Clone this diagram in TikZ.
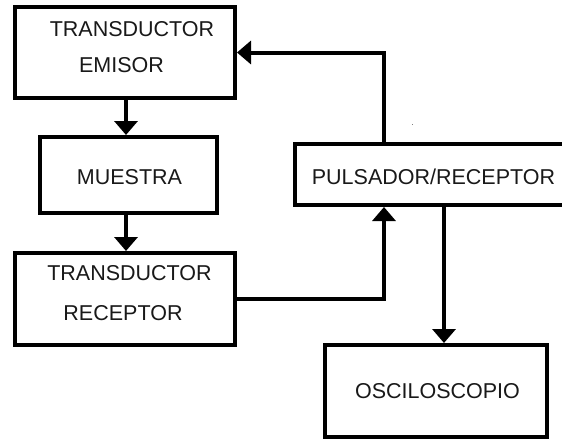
\documentclass[tikz,border=0pt]{standalone}
\usepackage{fontspec}
\setmainfont{Liberation Sans}
\usetikzlibrary{arrows.meta}
\begin{document}
\begin{tikzpicture}[x=1pt,y=-1pt,
  box/.style={draw=black,line width=4pt,inner sep=0pt,fill=white},
  lbl/.style={inner sep=0pt,font=\fontsize{21.5}{25}\selectfont,text=black!90},
  arr/.style={line width=4pt,-{Triangle[width=23pt,length=14pt]}},
  wire/.style={line width=4pt}]
\useasboundingbox (0,0) rectangle (562,440);
% boxes
\node[box,minimum width=220pt,minimum height=91pt] (emisor) at (125,52.5) {};
\node[box,minimum width=177pt,minimum height=76pt] (muestra) at (128.5,175) {};
\node[box,minimum width=220pt,minimum height=92pt] (receptor) at (125,299) {};
\node[box,minimum width=275pt,minimum height=61pt] (pulsador) at (432.5,174.5) {};
\node[box,minimum width=222pt,minimum height=92pt] (osc) at (436,391) {};
% labels
\node[lbl] (t1) at (132,29) {TRANSDUCTOR};
\node[lbl] (t2) at (121.5,65) {EMISOR};
\node[lbl] (t3) at (129.5,177) {MUESTRA};
\node[lbl] (t4) at (129.5,273.5) {TRANSDUCTOR};
\node[lbl] (t5) at (123,313.5) {RECEPTOR};
\node[lbl] (t6) at (433.5,176.5) {PULSADOR/RECEPTOR};
\node[lbl] (t7) at (437.5,391.5) {OSCILOSCOPIO};
% helper coordinates
\coordinate (cx1) at (126,0);
\coordinate (cx2) at (384,0);
\coordinate (cx3) at (444,0);
% connectors
\draw[arr] (emisor.south -| cx1) -- (muestra.north -| cx1);
\draw[arr] (muestra.south -| cx1) -- (receptor.north -| cx1);
\draw[arr] (receptor.east) -| (pulsador.south -| cx2);
\draw[arr] (pulsador.north -| cx2) |- (emisor.east);
\draw[arr] (pulsador.south -| cx3) -- (osc.north -| cx3);
% tiny speck
\fill[gray] (411.5,123.5) rectangle (413,125);
\end{tikzpicture}
\end{document}
